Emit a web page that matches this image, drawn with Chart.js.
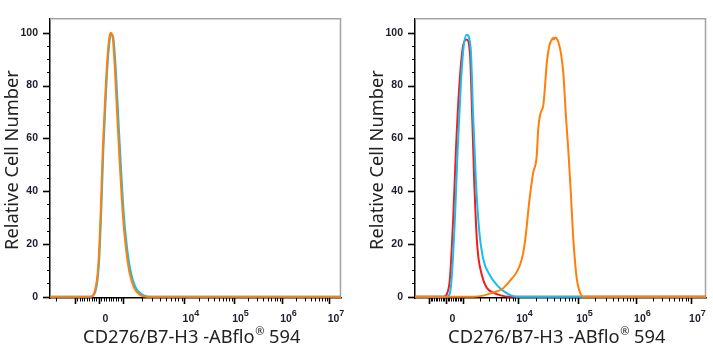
<!DOCTYPE html>
<html>
<head>
    <meta charset="UTF-8">
    <title>CD276/B7-H3 ABflo 594 histograms</title>
    <script src="https://cdn.jsdelivr.net/npm/chart.js"></script>
    <style>
        body {
            margin: 0;
            background: #fff;
            overflow: hidden;
        }
        canvas {
            position: absolute;
            top: 0;
        }
    </style>
</head>
<body>
    <canvas id="leftChart" width="357" height="350" style="left:0"></canvas>
    <canvas id="rightChart" width="356" height="350" style="left:357px"></canvas>

    <script>
        // histogram curves: [channel (0-1024 display scale), % of max]
        const leftIsotype = [[0,0],[143,0],[160,2],[172,12],[180,31],[187.5,55],[195.5,74],[203.5,89.5],[210.5,97.5],[216,99.5],[223,98],[231.5,86],[240.5,67.5],[249.5,49.5],[259.5,31.5],[270,19.5],[283,10],[300,3.8],[322,1],[348,0],[1024,0]];
        const leftStained = [[0,0],[141,0],[158,2.2],[170,12],[178,31],[185.5,55],[193.5,74],[201.5,89.5],[208.5,98],[213.5,100],[220.5,98.5],[228.5,86],[237,67.5],[246,49.5],[256,31.5],[266,19.5],[279,9.5],[295.5,3.4],[316.5,0.7],[340,0],[1024,0]];

        const rightBlank = [[0,0],[99.5,0],[112,1],[123,7],[135,31],[144,55.5],[156,80],[170,95.5],[182,97.5],[193.5,92],[201.5,67.5],[208.5,43.5],[219,19.5],[234.5,8.5],[252,3.5],[275.5,1.5],[305,0.4],[327,0],[1024,0]];
        const rightIsotype = [[0,0],[111.5,0],[122,1],[129,7],[141,31],[150,55.5],[161,80],[172,95.5],[182,99.3],[196,94],[205,67.5],[214.5,43.5],[226,25],[240,14.3],[264,8],[287.5,4.5],[310.5,2.2],[340,0.4],[358,0],[1024,0]];
        const rightStained = [[0,0],[205,0],[240,0.4],[275.5,1.6],[305,2.8],[328,5.2],[340,6.8],[352,8.3],[369.5,12],[381,16.7],[390.5,24],[402,36],[416,47],[428,53],[434,64],[440,68.8],[446,70.7],[451.5,72.5],[457.5,79.7],[463.5,88.3],[472.5,95],[481,97.3],[486,98],[489,97.5],[493,98.2],[498.5,97.8],[504,96.7],[514,91.9],[522,84.6],[531.5,67.6],[539.5,55.5],[548,40],[557,22],[569,7],[580.5,1.6],[592,0],[1024,0]];

        // biex axis layout: channel of 0 and of 10^3 .. 10^7
        const leftZero = 172;
        const leftDecades = [257, 473, 647.5, 816.5, 983.5];
        const rightZero = 109;
        const rightDecades = [169, 362.5, 573.5, 777.5, 971];

        const xTickLabels = ['0', '10^4', '10^5', '10^6', '10^7'];
        const yTickValues = [0, 20, 40, 60, 80, 100];
        const yMinorValues = [0, 5, 10, 15, 20, 25, 30, 35, 40, 45, 50, 55, 60, 65, 70, 75, 80, 85, 90, 95, 100];

        const CYAN = '#14bff0';
        const ORANGE = '#ff7f0a';
        const RED = '#f21c1c';
        const TITLE_FONT = '18.3px "Noto Sans", "Open Sans", sans-serif';
        const TICK_FONT = '"Liberation Sans", Arial, sans-serif';

        function buildXTicks(zero, decades) {
            const ticks = [];
            const lin = (decades[0] - zero) / 10;
            const negK = 2 * zero - decades[0];
            ticks.push({ v: zero, major: true }, { v: decades[0], major: true }, { v: negK, major: true });
            for (let k = 1; k < 10; k++) {
                ticks.push({ v: zero + k * lin }, { v: zero - k * lin });
            }
            for (let d = 0; d < decades.length - 1; d++) {
                const a = decades[d], b = decades[d + 1];
                ticks.push({ v: b, major: true });
                for (let k = 2; k < 10; k++) ticks.push({ v: a + Math.log10(k) * (b - a) });
            }
            const w = decades[1] - decades[0];
            for (let k = 2; k < 10; k++) ticks.push({ v: negK - Math.log10(k) * w });
            return ticks;
        }

        const flowAxes = {
            id: 'flowAxes',
            beforeDatasetsDraw(chart, args, o) {
                const { ctx, chartArea: a } = chart;
                const x = chart.scales.x, y = chart.scales.y;
                ctx.save();

                // grey frame, top and right
                ctx.strokeStyle = '#a3a3a3';
                ctx.lineWidth = 1.5;
                ctx.beginPath();
                ctx.moveTo(a.left, a.top + 0.5);
                ctx.lineTo(a.right - 0.5, a.top + 0.5);
                ctx.lineTo(a.right - 0.5, a.bottom);
                ctx.stroke();

                ctx.strokeStyle = '#000';
                yMinorValues.forEach(v => {
                    const major = yTickValues.includes(v);
                    const py = Math.round(y.getPixelForValue(v)) + 0.5;
                    ctx.lineWidth = major ? 1.6 : 1;
                    ctx.beginPath();
                    ctx.moveTo(a.left - (major ? 7 : 3), py);
                    ctx.lineTo(a.left, py);
                    ctx.stroke();
                });

                buildXTicks(o.zero, o.decades).forEach(t => {
                    if (t.v < x.min || t.v > x.max) return;
                    const px = Math.round(x.getPixelForValue(t.v)) + 0.5;
                    ctx.lineWidth = t.major ? 1.6 : 1;
                    ctx.beginPath();
                    ctx.moveTo(px, a.bottom);
                    ctx.lineTo(px, a.bottom + (t.major ? 6 : 3.5));
                    ctx.stroke();
                });

                // x tick labels, 10 with raised exponent
                const at = [o.zero].concat(o.decades.slice(1));
                ctx.fillStyle = '#1d1d2b';
                ctx.textBaseline = 'middle';
                ctx.textAlign = 'left';
                xTickLabels.forEach((lab, i) => {
                    const [base, exp] = lab.split('^');
                    ctx.font = 'bold 10.5px ' + TICK_FONT;
                    const wb = ctx.measureText(base).width;
                    ctx.font = 'bold 9px ' + TICK_FONT;
                    const we = exp ? ctx.measureText(exp).width : 0;
                    const cx = x.getPixelForValue(at[i]) + 6.5;
                    const sx = cx - (wb + we) / 2;
                    ctx.font = 'bold 10.5px ' + TICK_FONT;
                    ctx.fillText(base, sx, 319);
                    if (exp) {
                        ctx.font = 'bold 9px ' + TICK_FONT;
                        ctx.fillText(exp, sx + wb, 313.5);
                    }
                });
                ctx.restore();
            },
            afterDraw(chart) {
                const { ctx, chartArea: a } = chart;
                ctx.save();
                ctx.fillStyle = '#222';
                ctx.font = TITLE_FONT;

                // y title
                ctx.save();
                ctx.translate(a.left - 37, 160);
                ctx.rotate(-Math.PI / 2);
                ctx.textAlign = 'center';
                ctx.textBaseline = 'middle';
                ctx.fillText('Relative Cell Number', 0, 0);
                ctx.restore();

                // x title with small raised registered mark
                const p1 = 'CD276/B7-H3 -ABflo', sup = '®', p2 = ' 594';
                ctx.textAlign = 'left';
                ctx.textBaseline = 'alphabetic';
                const w1 = ctx.measureText(p1).width, w2 = ctx.measureText(p2).width;
                ctx.font = '11px "Noto Sans", "Open Sans", sans-serif';
                const ws = ctx.measureText(sup).width;
                let sx = (a.left + a.right) / 2 - 4 - (w1 + ws + w2) / 2;
                ctx.font = TITLE_FONT;
                ctx.fillText(p1, sx, 343);
                ctx.font = '11px "Noto Sans", "Open Sans", sans-serif';
                ctx.fillText(sup, sx + w1 + 0.5, 335);
                ctx.font = TITLE_FONT;
                ctx.fillText(p2, sx + w1 + ws + 0.5, 343);
                ctx.restore();
            }
        };

        function makeChart(id, curves, axis) {
            return new Chart(document.getElementById(id), {
                type: 'line',
                data: {
                    datasets: curves.map(c => ({
                        data: c.points.map(p => ({ x: p[0], y: p[1] })),
                        borderColor: c.color,
                        borderWidth: 2,
                        pointRadius: 0,
                        fill: false,
                        cubicInterpolationMode: 'monotone'
                    }))
                },
                options: {
                    responsive: false,
                    animation: false,
                    events: [],
                    layout: { padding: { top: 6, right: axis.padRight, left: 0, bottom: 0 } },
                    plugins: {
                        legend: { display: false },
                        tooltip: { enabled: false },
                        flowAxes: axis
                    },
                    scales: {
                        x: {
                            type: 'linear',
                            min: 0,
                            max: 1024,
                            grid: { display: false },
                            ticks: { display: false },
                            border: { color: '#000', width: 1.5 },
                            afterFit: s => { s.height = 52; }
                        },
                        y: {
                            min: -0.5,
                            max: 105.5,
                            grid: { display: false, drawTicks: false },
                            border: { color: '#000', width: 1.5 },
                            afterBuildTicks: s => { s.ticks = yTickValues.map(v => ({ value: v })); },
                            ticks: {
                                padding: 12,
                                color: '#1d1d2b',
                                font: { family: TICK_FONT, size: 10.5, weight: 'bold' }
                            },
                            afterFit: s => { s.width = axis.left; }
                        }
                    }
                },
                plugins: [flowAxes]
            });
        }

        // first dataset is painted last, so the stained sample sits on top
        makeChart('leftChart', [
            { points: leftStained, color: ORANGE },
            { points: leftIsotype, color: CYAN }
        ], { zero: leftZero, decades: leftDecades, left: 50, padRight: 16 });

        makeChart('rightChart', [
            { points: rightStained, color: ORANGE },
            { points: rightIsotype, color: CYAN },
            { points: rightBlank, color: RED }
        ], { zero: rightZero, decades: rightDecades, left: 58, padRight: 7 });
    </script>
</body>
</html>
